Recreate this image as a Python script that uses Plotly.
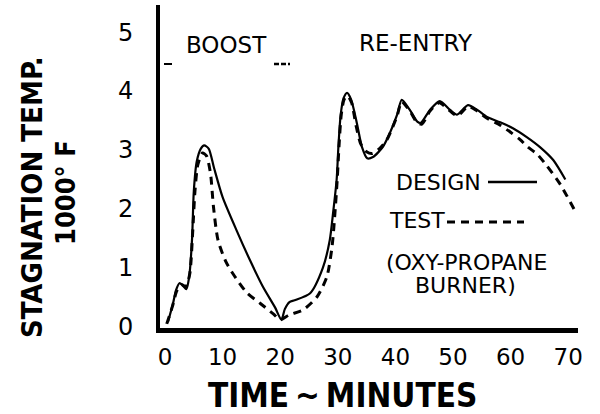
import plotly.graph_objects as go

# Stagnation temperature history, thousands of degrees F, versus time in minutes
design_time = [0.5, 1.4, 1.9, 2.5, 3.1, 3.7, 4.2, 4.7, 5.0, 5.5, 6.2, 6.8, 7.6, 8.5, 10.0,
               12.5, 14.8, 17.0, 19.1, 20.2, 20.8, 21.6, 22.5, 25.2, 27.4, 28.6, 29.2,
               29.8, 30.1, 30.5, 31.0, 31.6, 32.3, 33.3, 34.2, 35.1, 36.1, 37.8, 39.0,
               40.3, 41.1, 42.5, 43.8, 44.4, 46.0, 47.7, 49.5, 50.7, 52.6, 54.2, 55.9,
               58.2, 60.4, 62.8, 65.1, 67.4, 69.5]
design_temp = [0.08, 0.40, 0.62, 0.74, 0.70, 0.64, 0.85, 1.50, 2.30, 2.80, 3.02, 3.08,
               3.02, 2.70, 2.20, 1.62, 1.12, 0.68, 0.33, 0.12, 0.30, 0.42, 0.45, 0.57,
               1.00, 1.47, 1.95, 2.50, 3.05, 3.60, 3.88, 3.97, 3.86, 3.46, 3.05, 2.86,
               2.88, 3.05, 3.28, 3.60, 3.85, 3.68, 3.48, 3.46, 3.68, 3.83, 3.68, 3.60,
               3.76, 3.68, 3.56, 3.47, 3.37, 3.22, 3.05, 2.83, 2.50]

test_time = [0.3, 1.3, 2.0, 2.8, 3.6, 4.3, 4.8, 5.2, 5.7, 6.5, 7.2, 7.9, 8.4, 9.2, 10.5,
             11.8, 14.2, 16.5, 18.8, 20.0, 21.5, 24.0, 26.4, 28.1, 29.0, 29.5, 29.9,
             30.2, 30.6, 31.1, 31.7, 32.4, 33.2, 34.0, 35.0, 36.0, 37.2, 38.5, 40.3,
             41.1, 42.5, 43.8, 44.6, 46.0, 47.6, 49.5, 50.8, 52.6, 54.2, 55.9, 58.2,
             60.0, 61.6, 63.0, 64.6, 66.3, 68.6, 71.0]
test_temp = [0.05, 0.35, 0.60, 0.72, 0.68, 0.90, 1.60, 2.30, 2.75, 2.95, 2.90, 2.60,
             2.05, 1.47, 1.12, 0.90, 0.58, 0.40, 0.22, 0.12, 0.20, 0.29, 0.51, 0.85,
             1.36, 1.93, 2.50, 3.05, 3.60, 3.86, 3.92, 3.80, 3.40, 3.10, 2.97, 2.94,
             3.02, 3.17, 3.58, 3.82, 3.66, 3.46, 3.44, 3.66, 3.80, 3.66, 3.58, 3.74,
             3.66, 3.54, 3.42, 3.30, 3.18, 3.05, 2.93, 2.73, 2.42, 2.00]

x_ticks = [0, 10, 20, 30, 40, 50, 60, 70]
y_ticks = [0, 1, 2, 3, 4, 5]

W, H = 600, 414
L, R, T, B = 160, 22, 5, 86


def px(x):
    return (x - L) / (W - L - R)


def py(y):
    return (H - B - y) / (H - T - B)


TXT = "DejaVu Sans"
BIG = "DejaVu Sans Condensed, sans-serif"

fig = go.Figure()
fig.add_trace(go.Scatter(x=design_time, y=design_temp, mode="lines",
                         line=dict(color="black", width=2.2, shape="spline", smoothing=0.7),
                         showlegend=False))
fig.add_trace(go.Scatter(x=test_time, y=test_temp, mode="lines",
                         line=dict(color="black", width=3, dash="8px,6px",
                                   shape="spline", smoothing=0.7),
                         showlegend=False))

annotations = [
    dict(x=px(226), y=py(45), text="BOOST", font=dict(family=TXT, size=23)),
    dict(x=px(416), y=py(43), text="RE-ENTRY", font=dict(family=TXT, size=23)),
    dict(x=px(438), y=py(183), text="DESIGN", font=dict(family=TXT, size=22)),
    dict(x=px(417), y=py(221), text="TEST", font=dict(family=TXT, size=22)),
    dict(x=px(466), y=py(262), text="(OXY-PROPANE", font=dict(family=TXT, size=22)),
    dict(x=px(465), y=py(285), text="BURNER)", font=dict(family=TXT, size=22)),
    dict(x=px(342), y=py(395), text="TIME\u2009~\u2009MINUTES",
         font=dict(family=BIG, size=33, weight="bold")),
    dict(x=px(32), y=py(197), text="STAGNATION TEMP.", textangle=-90,
         font=dict(family=BIG, size=29, weight="bold")),
    dict(x=px(65), y=py(193), text="1000° F", textangle=-90,
         font=dict(family=BIG, size=27, weight="bold")),
]
for a in annotations:
    a.update(xref="paper", yref="paper", showarrow=False, xanchor="center",
             yanchor="middle", font_color="black")
fig.update_layout(annotations=annotations)

shapes = [
    dict(x0=px(488), x1=px(537), y0=py(182), y1=py(182), line=dict(width=2.5)),
    dict(x0=px(447), x1=px(524), y0=py(222), y1=py(222), line=dict(width=3, dash="8px,6px")),
    dict(x0=px(164), x1=px(172), y0=py(64), y1=py(64), line=dict(width=2)),
    dict(x0=px(274), x1=px(290), y0=py(64), y1=py(64), line=dict(width=2.5, dash="5px,2px")),
]
for s in shapes:
    s.update(type="line", xref="paper", yref="paper")
    s["line"]["color"] = "black"
fig.update_layout(shapes=shapes)

fig.update_xaxes(range=[-0.87, 71.7], tickvals=x_ticks, ticks="", showgrid=False,
                 zeroline=False, showline=True, linewidth=5, linecolor="black",
                 ticklabelstandoff=4, tickfont=dict(family=TXT, size=23, color="black"))
fig.update_yaxes(range=[-0.02, 5.46], tickvals=y_ticks, ticks="", showgrid=False,
                 zeroline=False, showline=True, linewidth=4, linecolor="black",
                 ticklabelstandoff=18, tickfont=dict(family=TXT, size=24, color="black"))

fig.update_layout(width=W, height=H, margin=dict(l=L, r=R, t=T, b=B),
                  plot_bgcolor="white", paper_bgcolor="white")

fig.write_html("out.html")
